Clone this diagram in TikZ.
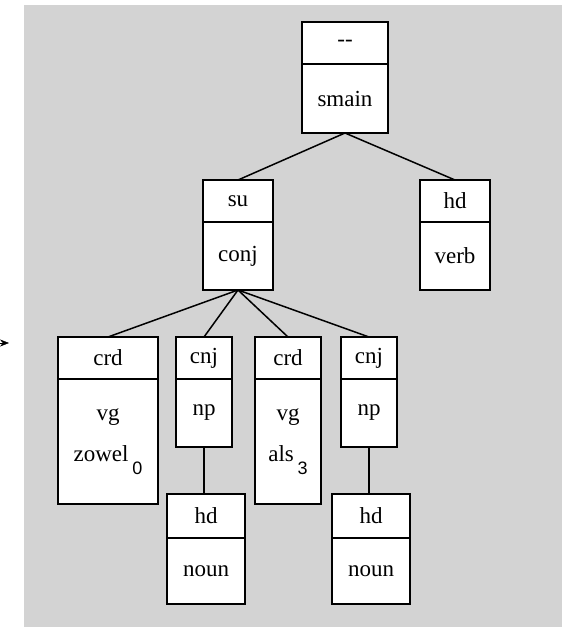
\documentclass[tikz,border=0pt]{standalone}
\usepackage{fontspec}
\setmainfont{Liberation Serif}
\setsansfont{Liberation Sans}
\usetikzlibrary{arrows.meta,positioning}

\definecolor{panel}{RGB}{211,211,211}
% index of a word in the sentence
\newcommand{\wordidx}[1]{\,\raisebox{-13pt}{\fontsize{18}{18}\sffamily #1}}

\begin{document}
\begin{tikzpicture}[x=1pt, y=-1pt,
      rel/.style={draw,fill=white,line width=2pt,outer sep=0pt,inner sep=0pt,
        minimum height=42pt,align=center,font=\fontsize{23}{41}\selectfont},
      edge/.style={line width=1.5pt}]
      \fill[panel] (24,5) rectangle (562,627);
      \useasboundingbox (0,0) rectangle (562,627);

      % root
      \node[rel,minimum width=86pt] at (345,43) (toprel) {-{}-};
      \node[rel,minimum width=86pt,minimum height=69pt,below=0pt of toprel] (topcat) {smain};

      % second level
      \node[rel,minimum width=70pt] at (238,201) (surel) {su};
      \node[rel,minimum width=70pt,minimum height=68pt,below=0pt of surel] (sucat) {conj};
      \node[rel,minimum width=70pt] at (455,201) (hdrel) {hd};
      \node[rel,minimum width=70pt,minimum height=68pt,below=0pt of hdrel] (hdcat) {verb};

      % conjuncts
      \node[rel,minimum width=100pt] at (108,358) (crdArel) {crd};
      \node[rel,minimum width=100pt,minimum height=125pt,below=0pt of crdArel] (crdAcat) {vg\\zowel\wordidx{0}};
      \node[rel,minimum width=56pt] at (204,358) (cnjArel) {cnj};
      \node[rel,minimum width=56pt,minimum height=68pt,below=0pt of cnjArel] (cnjAcat) {np};
      \node[rel,minimum width=66pt] at (288,358) (crdBrel) {crd};
      \node[rel,minimum width=66pt,minimum height=125pt,below=0pt of crdBrel] (crdBcat) {vg\\als\wordidx{3}};
      \node[rel,minimum width=56pt] at (369,358) (cnjBrel) {cnj};
      \node[rel,minimum width=56pt,minimum height=68pt,below=0pt of cnjBrel] (cnjBcat) {np};

      % heads of the np's
      \node[rel,minimum width=78pt,minimum height=44pt] at (206,516) (nounArel) {hd};
      \node[rel,minimum width=78pt,minimum height=66pt,below=0pt of nounArel] (nounAcat) {noun};
      \node[rel,minimum width=78pt,minimum height=44pt] at (371,516) (nounBrel) {hd};
      \node[rel,minimum width=78pt,minimum height=66pt,below=0pt of nounBrel] (nounBcat) {noun};

      \draw[edge] (topcat.south) -- (surel.north);
      \draw[edge] (topcat.south) -- (hdrel.north);
      \draw[edge] (sucat.south) -- (crdArel.north);
      \draw[edge] (sucat.south) -- (cnjArel.north);
      \draw[edge] (sucat.south) -- (crdBrel.north);
      \draw[edge] (sucat.south) -- (cnjBrel.north);
      \draw[edge] (cnjAcat.south) -- (cnjAcat.south |- nounArel.north);
      \draw[edge] (cnjBcat.south) -- (cnjBcat.south |- nounBrel.north);

      % pointer at the left margin
      \coordinate (ptrtail) at (0,343);
      \coordinate (ptrtip) at (9,343);
      \draw[-{Stealth[length=9pt,width=7pt]}] (ptrtail) -- (ptrtip);
\end{tikzpicture}
\end{document}
